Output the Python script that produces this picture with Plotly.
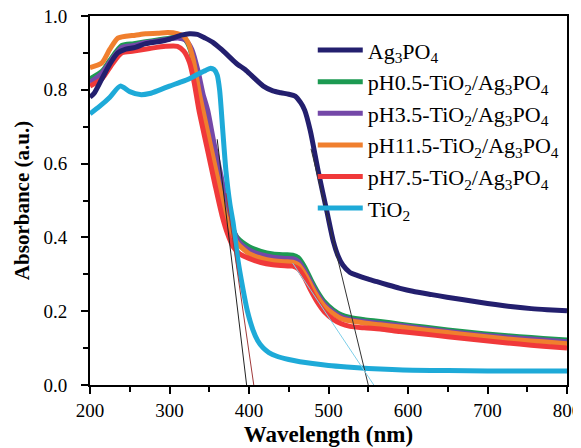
import plotly.graph_objects as go

# ---------------- data ----------------
ag_x = [200, 205, 215, 225, 235, 245, 257, 270, 285, 300, 315, 325, 335, 345, 355, 365, 375, 385,
        395, 405, 418, 430, 440, 450, 458, 465, 470, 477, 487, 498, 506, 512, 518, 527, 536, 548,
        561, 575, 590, 606, 630, 649, 670, 690, 710, 732, 755, 775, 800]
ag_y = [0.78, 0.79, 0.83, 0.87, 0.90, 0.91, 0.915, 0.925, 0.93, 0.937, 0.948, 0.952, 0.95, 0.94,
        0.928, 0.91, 0.89, 0.87, 0.855, 0.835, 0.81, 0.797, 0.792, 0.788, 0.783, 0.765, 0.745, 0.69,
        0.58, 0.47, 0.39, 0.35, 0.325, 0.305, 0.297, 0.288, 0.28, 0.271, 0.262, 0.254, 0.245, 0.238,
        0.231, 0.224, 0.218, 0.212, 0.207, 0.204, 0.201]

ph05_x = [200, 215, 225, 240, 255, 270, 285, 300, 312, 320, 326, 332, 338, 344, 352, 362, 370, 377,
          385, 400, 415, 430, 445, 455, 462, 470, 478, 485, 495, 506, 516, 527, 545, 565, 590, 620,
          650, 680, 710, 740, 770, 800]
ph05_y = [0.83, 0.85, 0.88, 0.92, 0.925, 0.93, 0.935, 0.94, 0.943, 0.935, 0.91, 0.85, 0.79, 0.745,
          0.655, 0.555, 0.48, 0.435, 0.40, 0.375, 0.362, 0.355, 0.353, 0.352, 0.345, 0.32, 0.285,
          0.257, 0.225, 0.203, 0.19, 0.183, 0.177, 0.172, 0.165, 0.157, 0.149, 0.142, 0.136, 0.131,
          0.126, 0.122]

ph35_x = [200, 215, 225, 240, 255, 270, 285, 300, 312, 320, 328, 336, 342, 348, 356, 366, 373, 379,
          386, 400, 415, 430, 445, 455, 462, 470, 478, 485, 495, 506, 516, 527, 545, 565, 590, 620,
          650, 680, 710, 740, 770, 800]
ph35_y = [0.82, 0.845, 0.875, 0.915, 0.92, 0.928, 0.932, 0.938, 0.94, 0.935, 0.91, 0.85, 0.79, 0.745,
          0.655, 0.555, 0.475, 0.43, 0.392, 0.366, 0.353, 0.346, 0.343, 0.342, 0.335, 0.31, 0.277,
          0.25, 0.219, 0.198, 0.185, 0.178, 0.172, 0.167, 0.161, 0.153, 0.145, 0.138, 0.132, 0.127,
          0.122, 0.117]

ph115_x = [200, 215, 225, 235, 245, 257, 270, 285, 298, 310, 318, 324, 330, 338, 342, 352, 362,
           370, 377, 385, 400, 415, 430, 445, 455, 462, 470, 478, 485, 495, 506, 516, 527, 545,
           565, 590, 620, 650, 680, 710, 740, 770, 800]
ph115_y = [0.86, 0.873, 0.91, 0.94, 0.945, 0.948, 0.952, 0.953, 0.955, 0.952, 0.945, 0.925, 0.88,
           0.785, 0.745, 0.645, 0.545, 0.465, 0.42, 0.385, 0.356, 0.344, 0.337, 0.334, 0.333, 0.326,
           0.302, 0.27, 0.243, 0.213, 0.193, 0.18, 0.174, 0.168, 0.163, 0.157, 0.149, 0.142, 0.135,
           0.128, 0.122, 0.117, 0.112]

ph75_x = [200, 215, 228, 240, 255, 275, 295, 310, 318, 325, 331, 337, 347, 357, 366, 373, 380, 388,
          400, 415, 430, 445, 455, 462, 470, 478, 485, 495, 506, 516, 527, 545, 565, 590, 620, 650,
          680, 710, 740, 770, 800]
ph75_y = [0.81, 0.83, 0.87, 0.9, 0.905, 0.912, 0.918, 0.918, 0.905, 0.875, 0.82, 0.745, 0.645,
          0.545, 0.46, 0.41, 0.375, 0.356, 0.343, 0.332, 0.326, 0.323, 0.322, 0.315, 0.29, 0.255,
          0.228, 0.198, 0.178, 0.166, 0.159, 0.155, 0.152, 0.145, 0.138, 0.131, 0.124, 0.117,
          0.111, 0.105, 0.10]

tio2_x = [200, 212, 225, 238, 250, 263, 275, 288, 300, 313, 325, 338, 345, 351, 356, 360, 363, 367,
          371, 376, 380, 386, 392, 398, 405, 411, 418, 425, 435, 450, 464, 480, 500, 523, 550, 580,
          606, 650, 700, 750, 800]
tio2_y = [0.735, 0.755, 0.78, 0.81, 0.795, 0.787, 0.79, 0.80, 0.81, 0.82, 0.83, 0.845, 0.852, 0.858,
          0.855, 0.84, 0.80, 0.69, 0.58, 0.49, 0.44, 0.34, 0.265, 0.2, 0.149, 0.12, 0.10, 0.088,
          0.078, 0.069, 0.063, 0.058, 0.053, 0.049, 0.045, 0.042, 0.04, 0.039, 0.038, 0.038, 0.038]

# extrapolation (tangent) lines: [start, end]
tan_tio2_x, tan_tio2_y = [360, 397], [0.666, 0.0]
tan_ph75_x, tan_ph75_y = [371, 406], [0.52, 0.0]
tan_ag_x, tan_ag_y = [478, 550], [0.64, 0.0]
tan_ph_x, tan_ph_y = [455, 557], [0.33, 0.0]

x_ticks = [200, 300, 400, 500, 600, 700, 800]
y_ticks = [0.0, 0.2, 0.4, 0.6, 0.8, 1.0]

names = ["Ag<sub>3</sub>PO<sub>4</sub>",
         "pH0.5-TiO<sub>2</sub>/Ag<sub>3</sub>PO<sub>4</sub>",
         "pH3.5-TiO<sub>2</sub>/Ag<sub>3</sub>PO<sub>4</sub>",
         "pH11.5-TiO<sub>2</sub>/Ag<sub>3</sub>PO<sub>4</sub>",
         "pH7.5-TiO<sub>2</sub>/Ag<sub>3</sub>PO<sub>4</sub>",
         "TiO<sub>2</sub>"]

# ---------------- figure ----------------
FONT = "Liberation Serif"
fig = go.Figure()

series = [
    (ph05_x, ph05_y, names[1], "#1c9a52", 2),
    (ph35_x, ph35_y, names[2], "#7448a8", 3),
    (ph115_x, ph115_y, names[3], "#f07f2e", 4),
    (ph75_x, ph75_y, names[4], "#f0393a", 5),
    (ag_x, ag_y, names[0], "#231f6e", 1),
    (tio2_x, tio2_y, names[5], "#1eaad8", 6),
]
for x, y, n, c, r in series:
    fig.add_trace(go.Scatter(x=x, y=y, name=n, mode="lines", legendrank=r,
                             line=dict(color=c, width=5, shape="spline", smoothing=0.7)))

for x, y, c in [(tan_tio2_x, tan_tio2_y, "#222222"), (tan_ph75_x, tan_ph75_y, "#a0393a"),
                (tan_ag_x, tan_ag_y, "#333333"), (tan_ph_x, tan_ph_y, "#7fd0ea")]:
    fig.add_trace(go.Scatter(x=x, y=y, mode="lines", showlegend=False,
                             line=dict(color=c, width=1)))

axis_common = dict(showline=True, linecolor="black", linewidth=2, mirror=True,
                   ticks="outside", ticklen=7, tickwidth=2, tickcolor="black",
                   showgrid=False, zeroline=False, automargin=False,
                   ticklabeloverflow="allow",
                   tickfont=dict(family=FONT, size=19, color="black"))

fig.update_xaxes(range=[200, 800], tickvals=x_ticks,
                 minor=dict(dtick=50, ticks="outside", ticklen=5, tickwidth=2, tickcolor="black"),
                 title=dict(text="<b>Wavelength (nm)</b>", font=dict(family=FONT, size=23, color="black"),
                            standoff=6),
                 **axis_common)
fig.update_yaxes(range=[0, 1.0], tickvals=y_ticks, tickformat=".1f", ticklabelstandoff=10,
                 minor=dict(dtick=0.1, ticks="outside", ticklen=5, tickwidth=2, tickcolor="black"),
                 title=dict(text="<b>Absorbance (a.u.)</b>", font=dict(family=FONT, size=21, color="black"),
                            standoff=8),
                 **axis_common)

# the page is shown with an 8 px body margin, so the margins compensate for it
fig.update_layout(
    width=581, height=448,
    margin=dict(l=82, r=22, t=8, b=71),
    plot_bgcolor="white", paper_bgcolor="white",
    legend=dict(x=0.467, y=0.964, xanchor="left", yanchor="top",
                font=dict(family=FONT, size=22, color="black"),
                bgcolor="rgba(0,0,0,0)", itemwidth=45, tracegroupgap=0),
    font=dict(family=FONT, color="black"),
)

fig.write_html("out.html")
